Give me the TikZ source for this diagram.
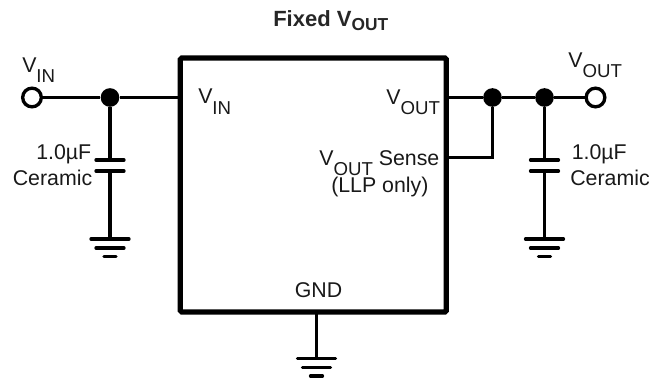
\documentclass[tikz,border=0pt]{standalone}
\usepackage{fontspec}
\setmainfont{Liberation Sans}
\usetikzlibrary{arrows.meta}
\newcommand{\lowtext}[1]{\raisebox{-7.5pt}{\fontsize{14}{14}\selectfont #1}}
\tikzset{
    wire/.style={line width=2.5pt},
    plate/.style={line width=2.5pt, line cap=round},
    label/.style={inner sep=0pt, anchor=base west, font=\fontsize{16}{16}\selectfont, text=black!90},
    labelr/.style={label, anchor=base east},
    junction/.style={circle, fill=black, inner sep=0pt, minimum size=14pt},
    terminal/.style={circle, draw=black, fill=white, line width=2.5pt, inner sep=0pt, minimum size=14pt},
}

\begin{document}
\begin{tikzpicture}[x=0.75pt, y=-0.75pt]
\useasboundingbox (0, 0) rectangle (659, 381);

% 1. the chip
\node[draw, line width=3.8pt, rounded corners=1pt, minimum width=199.5pt, minimum height=190.5pt, inner sep=0pt] (ic) at (313.25, 185) {};

% 2. terminals and junctions
\node[terminal] (vin) at (32, 97.5) {};
\node[junction] (dotin) at (110, 97.5) {};
\node[junction] (dotsense) at (492.5, 97.5) {};
\node[junction] (dotcap) at (544.5, 97.5) {};
\node[terminal] (vout) at (595.5, 97.5) {};
\coordinate (pinin) at (180, 97.5);
\coordinate (pinout) at (446, 97.5);
\coordinate (pinsense) at (446, 157.5);
\coordinate (pingnd) at (316.5, 312);

% 3. wires
\draw[wire] (vin) -- (dotin) -- (pinin);
\draw[wire] (pinout) -- (dotsense) -- (dotcap) -- (vout);
\draw[wire] (pinsense) -| (dotsense);

% 4. capacitors
\foreach \name/\loc in {dotin/110, dotcap/544.5}
    {\coordinate (\name top) at (\loc, 160);
     \coordinate (\name bot) at (\loc, 171);
     \coordinate (\name gnd) at (\loc, 239);
     \draw[wire] (\name) -- (\name top);
     \draw[wire] (\name bot) -- (\name gnd);
     \draw[plate] (\loc-14, 160) -- (\loc+14, 160);
     \draw[plate] (\loc-14, 171) -- (\loc+14, 171);
    }
\coordinate (gndpin) at (316.5, 358.5);
\draw[wire] (pingnd) -- (gndpin);

% 5. grounds
\foreach \loc/\y in {110/239, 544.5/239, 316.5/358.5}
    {\draw[plate] (\loc-19, \y) -- (\loc+19, \y);
     \draw[plate] (\loc-14, \y+9) -- (\loc+14, \y+9);
     \draw[plate] (\loc-6, \y+17.5) -- (\loc+6, \y+17.5);
    }

% 6. labels
\node[inner sep=0pt, anchor=base west, font=\fontsize{16.5}{16.5}\bfseries, text=black!85] (title) at (273, 27) {Fixed V\raisebox{-3pt}{\fontsize{13}{13}\selectfont OUT}};
\node[label] (lvin) at (22, 72.5) {V\lowtext{IN}};
\node[label] (lpinin) at (198, 104) {V\lowtext{IN}};
\node[label] (lpinout) at (386, 105) {V\lowtext{OUT}};
\node[label] (lsense) at (319, 165) {V\lowtext{OUT} Sense};
\node[label] (lllp) at (331, 192) {(LLP only)};
\node[label] (lvout) at (568, 68) {V\lowtext{OUT}};
\node[labelr] (lcapa) at (91.5, 159.5) {1.0µF};
\node[labelr] (lcapb) at (92.5, 185) {Ceramic};
\node[label] (rcapa) at (571.5, 159) {1.0µF};
\node[label] (rcapb) at (570, 185) {Ceramic};
\node[label] (lgnd) at (294.5, 297) {GND};
\end{tikzpicture}
\end{document}
